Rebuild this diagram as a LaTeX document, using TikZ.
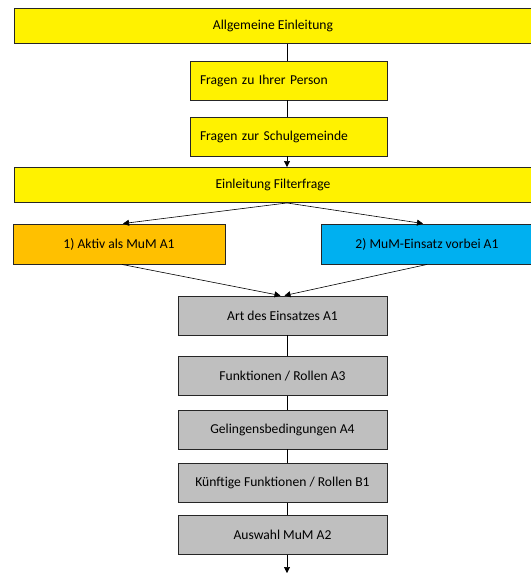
\documentclass[tikz,border=0pt]{standalone}
\usepackage{fontspec}
\setmainfont{Carlito}
\usepackage{tikz}
\usetikzlibrary{positioning, calc}
\usetikzlibrary{arrows.meta}

\begin{document}
\begin{tikzpicture}[x=1pt, y=-1pt, draw=black!100]
	\fontsize{13.6}{15}\selectfont
	\def \midx{287}
	\tikzstyle{box}=[draw=black!85, line width=0.9pt, inner sep=0pt, minimum height=35pt]
	\tikzstyle{wide-box}=[box, fill=yellow, minimum width=518pt]
	\tikzstyle{left-box}=[box, fill=yellow, text width=177pt, inner xsep=10pt, align=left, minimum height=39pt]
	\tikzstyle{grey-box}=[box, fill=black!25, minimum width=209pt, minimum height=39pt]
	\tikzstyle{link}=[line width=0.6pt]
	\tikzstyle{arr}=[link, -{Triangle[length=6pt, width=6pt]}]
	\useasboundingbox (0,0) rectangle (531,574);
	\node[wide-box] 	(allg)	at (273,26)		{Allgemeine Einleitung};
	\node[left-box] 	(pers)	at (288.5,80.5)		{Fragen zu Ihrer Person};
	\node[left-box] 	(schul)	at (288.5,136.5)		{Fragen zur Schulgemeinde};
	\node[wide-box] 	(filter)	at (273,185)		{Einleitung Filterfrage};
	\node[box, fill={rgb,255:red,255;green,192;blue,0}, minimum width=212pt, minimum height=40pt] 	(aktiv)	at (119,244)		{1) Aktiv als MuM A1};
	\node[box, fill={rgb,255:red,0;green,176;blue,240}, minimum width=212pt, minimum height=40pt] 	(vorbei)	at (427,244)		{2) MuM-Einsatz vorbei A1};
	\node[grey-box] 	(art)	at (282.5,315.5)		{Art des Einsatzes A1};
	\node[grey-box] 	(funk)	at (282.5,376)		{Funktionen / Rollen A3};
	\node[grey-box] 	(geling)	at (282.5,429.5)		{Gelingensbedingungen A4};
	\node[grey-box] 	(kuenft)	at (282.5,483)		{Künftige Funktionen / Rollen B1};
	\node[grey-box] 	(auswahl)	at (282.5,535)		{Auswahl MuM A2};
	\coordinate (ende) at (\midx,573);
	%\node[wide-box] (test) at (273,600) {};
	\draw[link] (allg.south -| \midx,0) -- (pers.north -| \midx,0);
	\draw[link] (pers.south -| \midx,0) -- (schul.north -| \midx,0);
	\draw[arr] (schul.south -| \midx,0) -- (filter.north -| \midx,0);
	\draw[arr] (filter.south -| \midx,0) -- ([xshift=4pt]aktiv.north);
	\draw[arr] (filter.south -| \midx,0) -- ([xshift=-4pt]vorbei.north);
	\draw[arr] ([xshift=3pt]aktiv.south) -- ([xshift=-2pt]art.north);
	\draw[arr] (vorbei.south) -- ([xshift=2pt]art.north);
	\draw[link] (art.south -| \midx,0) -- (funk.north -| \midx,0);
	\draw[link] (funk.south -| \midx,0) -- (geling.north -| \midx,0);
	\draw[link] (geling.south -| \midx,0) -- (kuenft.north -| \midx,0);
	\draw[link] (kuenft.south -| \midx,0) -- (auswahl.north -| \midx,0);
	\draw[arr] (auswahl.south -| \midx,0) -- (ende);
\end{tikzpicture}
\end{document}
